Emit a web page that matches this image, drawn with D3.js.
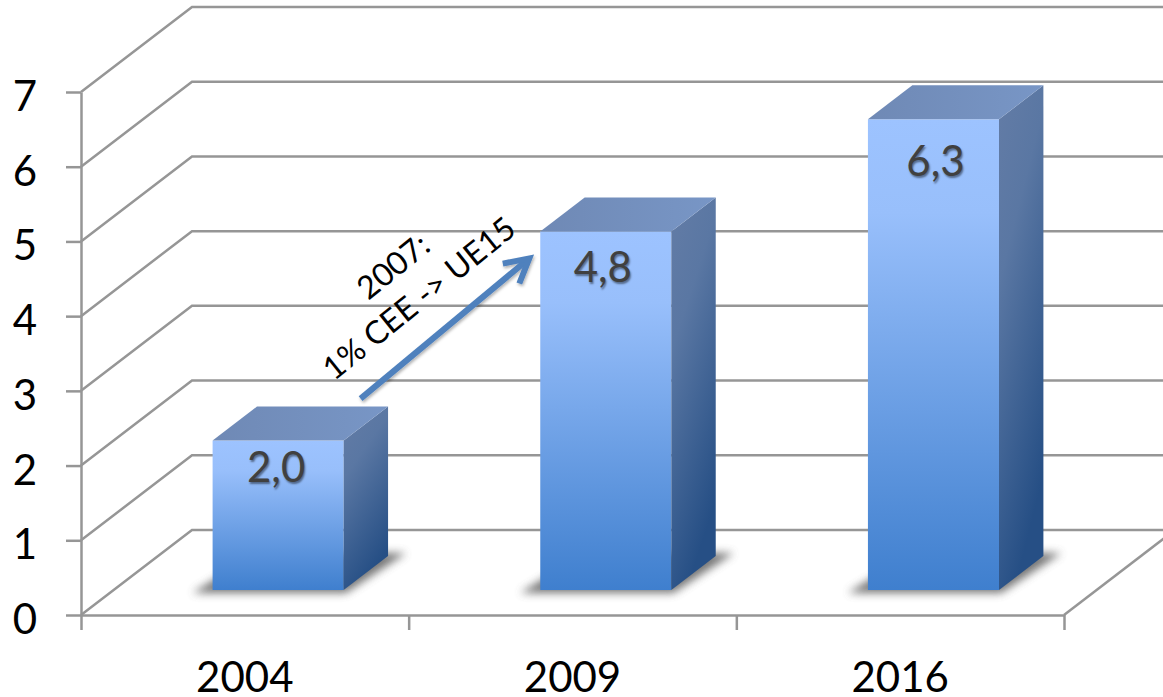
<!DOCTYPE html>
<html>
<head>
<meta charset="utf-8">
<script src="https://cdn.jsdelivr.net/npm/d3@7"></script>
<style>
  html, body { margin: 0; padding: 0; background: #fff; overflow: hidden; }
  svg { display: block; }
  text { font-family: Lato, "Open Sans", sans-serif; }
  .tick text { fill: #000; }
  .barLabel { fill: #404040; text-shadow: 1px 2px 2px rgba(0,0,0,0.45); }
</style>
</head>
<body>
<div id="main"></div>
<script>
const years = ["2004", "2009", "2016"];
const values = [2.0, 4.8, 6.3];
const valueLabels = ["2,0", "4,8", "6,3"];
const yTicks = [0, 1, 2, 3, 4, 5, 6, 7];
const noteLines = ["2007:", "1% CEE -> UE15"];

const width = 1163;
const height = 697;
const gridColor = "#969696";
const fontSize = 42;

// oblique offset of the back wall, bars sit part way along it
const wallDx = 111;
const wallDy = -85;
const barStart = 0.3;
const barDepth = 0.4;

const svg = d3.select("#main")
              .append("svg")
              .attr("width", width)
              .attr("height", height);

const x = d3.scaleBand().domain(years).range([81, 1064]).paddingInner(0.6).paddingOuter(0.3);
const y = d3.scaleLinear().domain([0, 7]).range([615, 92]);
const xEdges = d3.scaleLinear().domain([0, 3]).range([81, 1064]);

// gradients and filters
const defs = svg.append("defs");

function addGradient(id, x2, y2, stops) {
    const g = defs.append("linearGradient")
                  .attr("id", id)
                  .attr("x1", 0).attr("y1", 0)
                  .attr("x2", x2).attr("y2", y2);
    stops.forEach((s) => g.append("stop").attr("offset", s[0]).attr("stop-color", s[1]));
}
addGradient("frontFill", 0, 1, [[0, "#9dc3ff"], [0.2, "#98bffb"], [1, "#3f7fce"]]);
addGradient("sideFill", 0.35, 1, [[0, "#637ca6"], [0.35, "#5a77a3"], [1, "#264f85"]]);
addGradient("topFill", 1, 0, [[0, "#6f89b5"], [1, "#7896c6"]]);

defs.append("filter").attr("id", "floorBlur")
    .attr("x", "-20%").attr("y", "-40%").attr("width", "140%").attr("height", "180%")
    .append("feGaussianBlur").attr("stdDeviation", 4);

defs.append("filter").attr("id", "arrowShadow")
    .append("feDropShadow")
    .attr("dx", 1).attr("dy", 2).attr("stdDeviation", 1.5)
    .attr("flood-color", "#000").attr("flood-opacity", 0.3);

// walls
const walls = svg.append("g").attr("fill", "none").attr("stroke", gridColor).attr("stroke-width", 2.5);

walls.selectAll(".grid")
     .data(yTicks)
     .enter()
     .append("path")
     .attr("class", "grid")
     .attr("d", (d) => d3.line()([
        [xEdges(0), y(d)],
        [xEdges(0) + wallDx, y(d) + wallDy],
        [xEdges(3) + wallDx, y(d) + wallDy]
     ]));

walls.append("path")
     .attr("d", d3.line()([
        [xEdges(3), y(0)],
        [xEdges(3) + wallDx, y(0) + wallDy]
     ]));

// axes
const yAxis = d3.axisLeft(y).tickValues(yTicks).tickSize(15).tickPadding(29).tickSizeOuter(0).tickFormat(d3.format("d"));
const yG = svg.append("g").attr("transform", "translate(81, 0)").call(yAxis);

const xTickAxis = d3.axisBottom(xEdges).ticks(3).tickSize(15).tickSizeOuter(0).tickFormat("");
const xTickG = svg.append("g").attr("transform", "translate(0, " + y(0) + ")").call(xTickAxis);

const xAxis = d3.axisBottom(x).tickSize(0).tickPadding(47);
const xG = svg.append("g").attr("transform", "translate(0, " + y(0) + ")").call(xAxis);
xG.select(".domain").remove();

[yG, xTickG].forEach((g) => {
    g.selectAll("line, .domain").attr("stroke", gridColor).attr("stroke-width", 2.5);
});
[yG, xG].forEach((g) => {
    g.selectAll("text").style("font-size", fontSize + "px").style("font-family", "Lato, sans-serif");
});
yG.selectAll("text").attr("dy", "0.44em");

// bars
const bars = svg.selectAll(".bar")
                .data(years.map((year, i) => ({ year: year, value: values[i], label: valueLabels[i] })))
                .enter()
                .append("g")
                .attr("class", "bar");

const frontX = (d) => x(d.year) + wallDx * barStart;
const baseY = y(0) + wallDy * 0.294;
const topY = (d) => baseY - (y(0) - y(d.value));
const ddx = wallDx * barDepth;
const ddy = wallDy * barDepth;
const bw = x.bandwidth();
const poly = (pts) => d3.line()(pts) + "Z";

bars.append("path")
    .attr("fill", "#555")
    .attr("opacity", 0.8)
    .attr("filter", "url(#floorBlur)")
    .attr("d", (d) => {
        const l = frontX(d);
        return poly([
            [l - 20, baseY + 3],
            [l + bw + 2, baseY + 3],
            [l + bw + ddx + 18, baseY + ddy - 3],
            [l + ddx, baseY + ddy - 3]
        ]);
    });

bars.append("rect")
    .attr("x", frontX)
    .attr("y", topY)
    .attr("width", bw)
    .attr("height", (d) => baseY - topY(d))
    .attr("fill", "url(#frontFill)");

bars.append("path")
    .attr("fill", "url(#sideFill)")
    .attr("d", (d) => {
        const r = frontX(d) + bw;
        return poly([
            [r, topY(d)],
            [r + ddx, topY(d) + ddy],
            [r + ddx, baseY + ddy],
            [r, baseY]
        ]);
    });

bars.append("path")
    .attr("fill", "url(#topFill)")
    .attr("d", (d) => {
        const l = frontX(d);
        return poly([
            [l, topY(d)],
            [l + ddx, topY(d) + ddy],
            [l + bw + ddx, topY(d) + ddy],
            [l + bw, topY(d)]
        ]);
    });

// labels were placed by hand in the original, so each has its own nudge
const labelDrop = [41, 51, 57];
const labelShift = [-2, -3, 2];
bars.append("text")
    .attr("class", "barLabel")
    .attr("x", (d, i) => frontX(d) + bw / 2 + labelShift[i])
    .attr("y", (d, i) => topY(d) + labelDrop[i])
    .attr("text-anchor", "middle")
    .style("font-size", fontSize + "px")
    .text((d) => d.label);

// arrow between the first two bars
const from = [frontX({ year: years[0] }) + 148, topY({ value: values[0] }) - 42];
const to = [frontX({ year: years[1] }) - 11, topY({ value: values[1] }) + 27];
const angle = Math.atan2(to[1] - from[1], to[0] - from[0]);
const headLen = 27;
const armAt = (turn) => [
    to[0] - headLen * Math.cos(angle + turn),
    to[1] - headLen * Math.sin(angle + turn)
];

const arrow = svg.append("g")
                 .attr("fill", "none")
                 .attr("stroke", "#4f81bd")
                 .attr("stroke-width", 6)
                 .attr("filter", "url(#arrowShadow)");
arrow.append("path").attr("d", d3.line()([from, to]));
arrow.append("path").attr("d", d3.line()([armAt(-0.5), to, armAt(0.5)]));

// note above the arrow
const note = svg.append("g")
                .attr("transform", "translate(426, 307) rotate(-39)");
note.selectAll("text")
    .data(noteLines)
    .enter()
    .append("text")
    .attr("text-anchor", "middle")
    .attr("y", (d, i) => (i - 1) * 41)
    .style("font-size", "32px")
    .text((d) => d);
</script>
</body>
</html>
